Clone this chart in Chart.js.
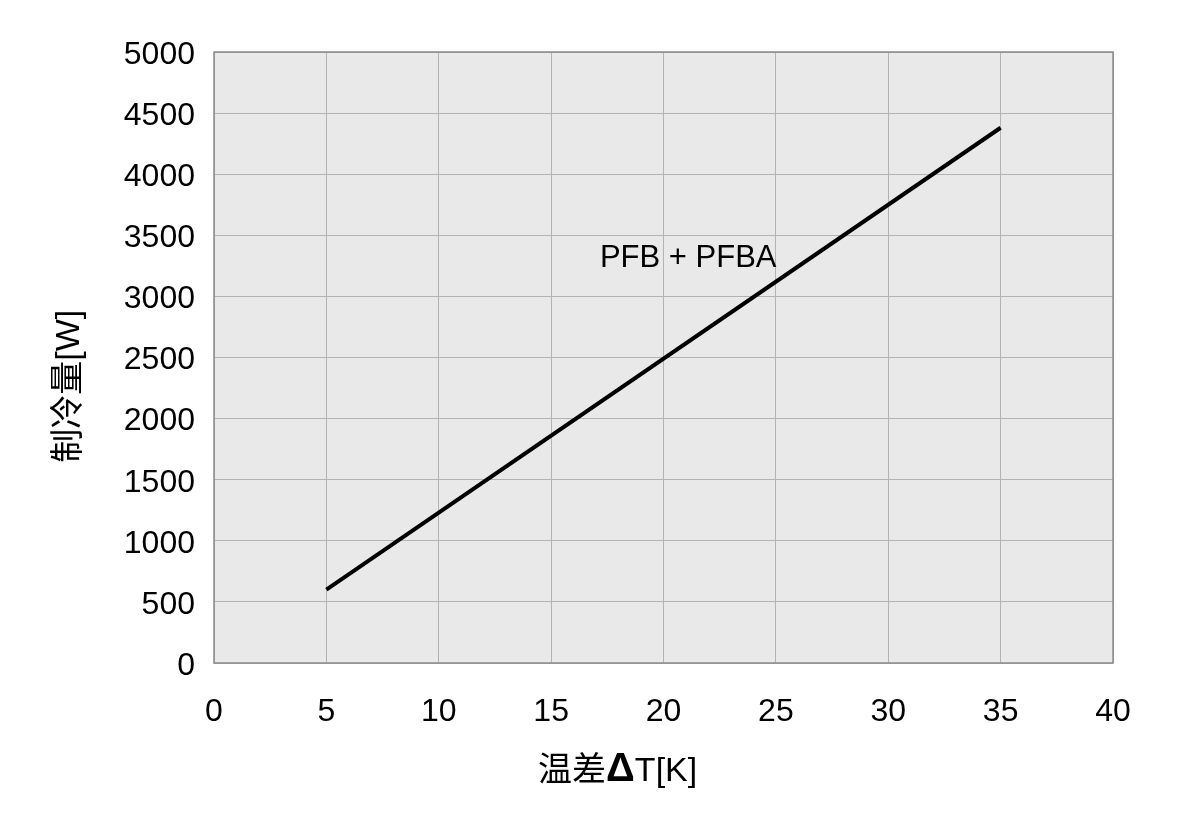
<!DOCTYPE html>
<html>
<head>
<meta charset="utf-8">
<script src="https://cdn.jsdelivr.net/npm/chart.js@4.4.1/dist/chart.umd.min.js"></script>
<style>
  html, body { margin: 0; padding: 0; background: #fff; }
  #wrap { width: 1181px; height: 827px; }
</style>
</head>
<body>
<div id="wrap"><canvas id="c"></canvas></div>
<script>
// data
var deltaT = [5, 35];
var coolingW = [600, 4380];
var seriesLabel = 'PFB + PFBA';
var labelAt = [21.1, 3310];
var xTicks = [0, 5, 10, 15, 20, 25, 30, 35, 40];
var yTicks = [0, 500, 1000, 1500, 2000, 2500, 3000, 3500, 4000, 4500, 5000];

var FONT = '"Liberation Sans", Arial, sans-serif';
var CJK = '"Liberation Sans", "Noto Sans CJK SC", sans-serif';

// grey plot background, dark frame, series label and axis titles
var frame = {
  id: 'frame',
  beforeDraw: function (chart) {
    var a = chart.chartArea, ctx = chart.ctx;
    ctx.save();
    ctx.fillStyle = '#e9e9e9';
    ctx.fillRect(a.left, a.top, a.right - a.left, a.bottom - a.top);
    ctx.restore();
  },
  afterDatasetsDraw: function (chart) {
    var a = chart.chartArea, ctx = chart.ctx;
    ctx.save();
    ctx.strokeStyle = '#8a8a8a';
    ctx.lineWidth = 1.5;
    ctx.strokeRect(a.left, a.top, a.right - a.left, a.bottom - a.top);

    var x = chart.scales.x.getPixelForValue(labelAt[0]);
    var y = chart.scales.y.getPixelForValue(labelAt[1]);
    ctx.fillStyle = '#000';
    ctx.font = '31px ' + FONT;
    ctx.textAlign = 'center';
    ctx.textBaseline = 'middle';
    ctx.fillText(seriesLabel, x, y);

    // x title: 温差ΔT[K] with a bold delta
    var parts = [['温差', '34px ' + CJK], ['Δ', 'bold 40px ' + FONT], ['T[K]', '34px ' + FONT]];
    var w = 0;
    parts.forEach(function (p) { ctx.font = p[1]; w += ctx.measureText(p[0]).width; });
    var cx = a.left + (a.right - a.left) * 0.449 - w / 2;
    ctx.textAlign = 'left';
    ctx.textBaseline = 'alphabetic';
    parts.forEach(function (p) {
      ctx.font = p[1];
      ctx.fillText(p[0], cx, a.bottom + 118);
      cx += ctx.measureText(p[0]).width;
    });

    // y title
    ctx.translate(a.left - 144, a.top + (a.bottom - a.top) * 0.547);
    ctx.rotate(-Math.PI / 2);
    ctx.font = '34px ' + CJK;
    ctx.textAlign = 'center';
    ctx.textBaseline = 'middle';
    ctx.fillText('制冷量[W]', 0, 0);
    ctx.restore();
  }
};

var ctx = document.getElementById('c');
var chart = new Chart(ctx, {
  type: 'scatter',
  data: {
    datasets: [{
      label: seriesLabel,
      data: deltaT.map(function (t, i) { return { x: t, y: coolingW[i] }; }),
      showLine: true,
      borderColor: '#000',
      borderWidth: 4,
      pointRadius: 0,
      fill: false
    }]
  },
  options: {
    responsive: true,
    maintainAspectRatio: false,
    animation: false,
    layout: { padding: { left: 0, right: 68, top: 52, bottom: 0 } },
    plugins: { legend: { display: false }, tooltip: { enabled: false } },
    scales: {
      x: {
        type: 'linear', min: xTicks[0], max: xTicks[xTicks.length - 1],
        afterBuildTicks: function (s) { s.ticks = xTicks.map(function (v) { return { value: v }; }); },
        afterFit: function (s) { s.height = 164; },
        ticks: { color: '#000', font: { family: FONT, size: 32 }, padding: 30, callback: function (v) { return String(v); } },
        grid: { color: '#b3b3b3', lineWidth: 1, drawTicks: false },
        border: { display: false }
      },
      y: {
        type: 'linear', min: yTicks[0], max: yTicks[yTicks.length - 1],
        afterBuildTicks: function (s) { s.ticks = yTicks.map(function (v) { return { value: v }; }); },
        afterFit: function (s) { s.width = 214; },
        ticks: { color: '#000', font: { family: FONT, size: 32 }, padding: 19, labelOffset: 3, callback: function (v) { return String(v); } },
        grid: { color: '#b3b3b3', lineWidth: 1, drawTicks: false },
        border: { display: false }
      }
    }
  },
  plugins: [frame]
});
</script>
</body>
</html>
